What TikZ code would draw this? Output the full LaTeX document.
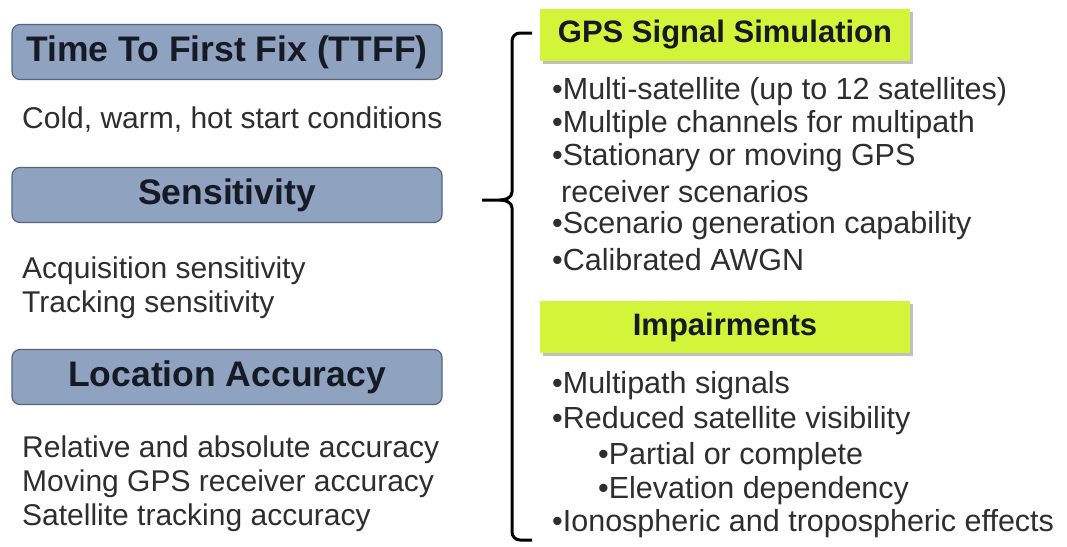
\documentclass[tikz,border=0pt]{standalone}
\usepackage{fontspec}
\setmainfont{Liberation Sans}
\usetikzlibrary{shadows}
\definecolor{bluebox}{HTML}{8FA3C1}
\definecolor{blueedge}{HTML}{55657E}
\definecolor{greenbox}{HTML}{D2F53A}
\definecolor{txt}{HTML}{2E2E2E}
\definecolor{ttl}{HTML}{151A24}
\begin{document}
\begin{tikzpicture}[x=1pt,y=-1pt,
  bluehead/.style={draw=blueedge,line width=1.2pt,fill=bluebox,rounded corners=8pt,minimum width=430pt,minimum height=55pt,inner sep=0pt,font=\fontsize{35.5}{38}\selectfont\bfseries,text=ttl},
  greenhead/.style={fill=greenbox,minimum width=370pt,minimum height=52pt,inner sep=0pt,font=\fontsize{31}{34}\selectfont\bfseries,text=ttl,drop shadow={shadow xshift=3pt,shadow yshift=-3pt,fill=gray!70,opacity=0.7}},
  body/.style={anchor=west,inner sep=0pt,text=txt,font=\fontsize{30}{34}\selectfont,align=left},
  bul/.style={anchor=west,inner sep=0pt,text=txt,font=\fontsize{30.5}{33}\selectfont}]
\useasboundingbox (0,0) rectangle (1067,546);
\fill[white] (0,0) rectangle (1067,546);
% left column
\node[bluehead] (ttff) at (227,52) {Time To First Fix (TTFF)};
\node[body] (ttfftxt) at (22,120) {Cold, warm, hot start conditions};
\node[bluehead] (sens) at (227,195) {Sensitivity};
\node[body] (senstxt) at (22,288) {Acquisition sensitivity\\Tracking sensitivity};
\node[bluehead] (loc) at (227,377) {Location Accuracy};
\node[body] (loctxt) at (22,484) {Relative and absolute accuracy\\Moving GPS receiver accuracy\\Satellite tracking accuracy};
% bracket
\coordinate (bt) at (532,33);
\coordinate (bb) at (532,540);
\coordinate (bm) at (482,200);
\draw[line width=3pt,black] (bt) -- (520,33) to[out=180,in=90] (512,41) -- (512,192) to[out=-90,in=0] (500,200) -- (bm);
\draw[line width=3pt,black] (500,200) to[out=0,in=90] (512,208) -- (512,532) to[out=-90,in=180] (520,540) -- (bb);
% right column
\node[greenhead] (gps) at (725,35) {GPS Signal Simulation};
\node[bul] (g1) at (552,92) {\textbullet Multi-satellite (up to 12 satellites)};
\node[bul] (g2) at (552,125) {\textbullet Multiple channels for multipath};
\node[bul] (g3) at (552,158) {\textbullet Stationary or moving GPS};
\node[bul] (g3b) at (561,192) {receiver scenarios};
\node[bul] (g4) at (552,226) {\textbullet Scenario generation capability};
\node[bul] (g5) at (552,260) {\textbullet Calibrated AWGN};
\node[greenhead] (imp) at (725,327) {Impairments};
\node[bul] (i1) at (552,386) {\textbullet Multipath signals};
\node[bul] (i2) at (552,421) {\textbullet Reduced satellite visibility};
\node[bul] (i3) at (598,457) {\textbullet Partial or complete};
\node[bul] (i4) at (598,491) {\textbullet Elevation dependency};
\node[bul] (i5) at (552,524) {\textbullet Ionospheric and tropospheric effects};
\end{tikzpicture}
\end{document}
